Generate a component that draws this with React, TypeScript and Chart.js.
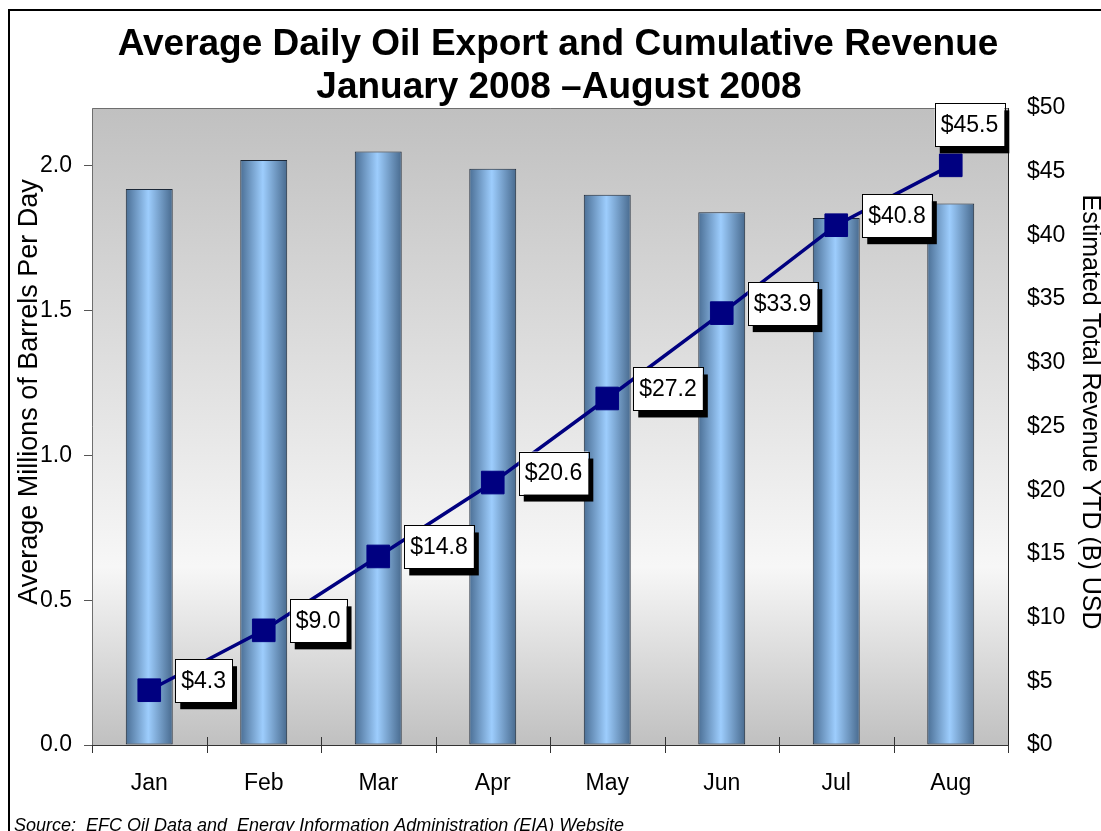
import React, { useEffect, useRef } from "react";
import { Chart, registerables } from "chart.js";

Chart.register(...registerables);

const months = ["Jan", "Feb", "Mar", "Apr", "May", "Jun", "Jul", "Aug"];
const barrelsPerDay = [1.92, 2.02, 2.05, 1.99, 1.9, 1.84, 1.82, 1.87];
const revenueYTD = [4.3, 9.0, 14.8, 20.6, 27.2, 33.9, 40.8, 45.5];
const leftTicks = [0, 0.5, 1.0, 1.5, 2.0];
const rightTicks = [0, 5, 10, 15, 20, 25, 30, 35, 40, 45, 50];
const titleLines = ["Average Daily Oil Export and Cumulative Revenue", "January 2008 \u2013August 2008"];
const leftAxisTitle = "Average Millions of Barrels Per Day";
const rightAxisTitle = "Estimated Total Revenue YTD (B) USD";
const sourceNote = "Source:  EFC Oil Data and  Energy Information Administration (EIA) Website";

const FONT = "'Liberation Sans', Arial, sans-serif";
const W = 1093;
const H = 823;

const backgroundPlugin = {
  id: "bgPlugin",
  beforeDraw(chart: any) {
    const { ctx, chartArea: a } = chart;
    ctx.save();
    ctx.fillStyle = "#ffffff";
    ctx.fillRect(0, 0, chart.width, chart.height);
    ctx.fillStyle = "#000000";
    ctx.fillRect(0, 1, 2, chart.height);
    ctx.fillRect(0, 1, chart.width, 2);
    const g = ctx.createLinearGradient(0, a.top, 0, a.bottom);
    g.addColorStop(0, "#c0c0c0");
    g.addColorStop(0.72, "#f7f7f7");
    g.addColorStop(1, "#c0c0c0");
    ctx.fillStyle = g;
    ctx.fillRect(a.left, a.top, a.right - a.left, a.bottom - a.top);
    ctx.strokeStyle = "#6e6e6e";
    ctx.lineWidth = 1;
    ctx.beginPath();
    ctx.moveTo(a.left + 0.5, a.bottom);
    ctx.lineTo(a.left + 0.5, a.top + 0.5);
    ctx.lineTo(a.right, a.top + 0.5);
    ctx.stroke();
    ctx.restore();
  },
};

const overlayPlugin = {
  id: "overlayPlugin",
  afterDatasetsDraw(chart: any) {
    const { ctx, chartArea: a } = chart;
    const xs = chart.scales.x;
    ctx.save();
    const cw = (xs.right - xs.left) / months.length;
    ctx.strokeStyle = "#333333";
    ctx.lineWidth = 1;
    for (let i = 0; i <= months.length; i++) {
      const x = Math.round(xs.left + i * cw) + 0.5;
      const y0 = i === 0 || i === months.length ? a.bottom : a.bottom - 8;
      ctx.beginPath();
      ctx.moveTo(x, y0);
      ctx.lineTo(x, a.bottom + 8);
      ctx.stroke();
    }
    const meta = chart.getDatasetMeta(0);
    ctx.font = `23px ${FONT}`;
    ctx.textBaseline = "middle";
    ctx.textAlign = "left";
    meta.data.forEach((pt: any, i: number) => {
      const text = "$" + revenueYTD[i].toFixed(1);
      const tw = ctx.measureText(text).width;
      const bw = tw + 12;
      const bh = 43;
      let bx = pt.x + 26;
      let by = pt.y - 31;
      if (i === revenueYTD.length - 1) {
        bx = pt.x - 16;
        by = pt.y - 62;
      }
      ctx.fillStyle = "#000000";
      ctx.fillRect(bx + 5, by + 7, bw, bh);
      ctx.fillStyle = "#ffffff";
      ctx.fillRect(bx, by, bw, bh);
      ctx.strokeStyle = "#000000";
      ctx.lineWidth = 1;
      ctx.strokeRect(Math.round(bx) + 0.5, Math.round(by) + 0.5, Math.round(bw), bh);
      ctx.fillStyle = "#000000";
      ctx.fillText(text, bx + 6, by + bh / 2 + 1);
    });
    ctx.restore();
  },
  afterDraw(chart: any) {
    const { ctx } = chart;
    ctx.save();
    ctx.fillStyle = "#000000";
    ctx.textAlign = "center";
    ctx.textBaseline = "alphabetic";
    ctx.font = `bold 37px ${FONT}`;
    ctx.fillText(titleLines[0], 550, 47);
    ctx.fillText(titleLines[1], 551, 90);
    ctx.textBaseline = "middle";
    ctx.font = `27px ${FONT}`;
    ctx.save();
    ctx.translate(22, 384);
    ctx.rotate(-Math.PI / 2);
    ctx.fillText(leftAxisTitle, 0, 0);
    ctx.restore();
    ctx.font = `25px ${FONT}`;
    ctx.save();
    ctx.translate(1082, 404);
    ctx.rotate(Math.PI / 2);
    ctx.fillText(rightAxisTitle, 0, 0);
    ctx.restore();
    ctx.textAlign = "left";
    ctx.textBaseline = "alphabetic";
    ctx.font = `italic 18px ${FONT}`;
    ctx.fillText(sourceNote, 6, 823);
    ctx.restore();
  },
};

export default function App() {
  const ref = useRef<HTMLCanvasElement>(null);
  useEffect(() => {
    const canvas = ref.current as HTMLCanvasElement;
    const chart = new Chart(canvas, {
      data: {
        labels: months,
        datasets: [
          {
            type: "line",
            label: "Revenue",
            data: revenueYTD,
            yAxisID: "y1",
            borderColor: "#000080",
            backgroundColor: "#000080",
            borderWidth: 3.5,
            pointStyle: "rect",
            pointRadius: 16,
            pointBorderWidth: 1,
            pointBorderColor: "#000080",
            pointBackgroundColor: "#000080",
            tension: 0,
            order: 0,
          },
          {
            type: "bar",
            label: "Barrels",
            data: barrelsPerDay,
            yAxisID: "y",
            barPercentage: 0.41,
            categoryPercentage: 1,
            borderColor: "#1c2838",
            borderWidth: 1,
            borderSkipped: false,
            order: 1,
            backgroundColor: (c: any) => {
              const ch = c.chart;
              const xs = ch.scales && ch.scales.x;
              if (!xs || c.dataIndex === undefined) return "#7fa8d4";
              const cx = xs.getPixelForValue(c.dataIndex);
              const cw = (xs.right - xs.left) / months.length;
              const bw = cw * 0.41;
              if (!isFinite(cx) || !isFinite(bw) || bw <= 0) return "#7fa8d4";
              const g = ch.ctx.createLinearGradient(cx - bw / 2, 0, cx + bw / 2, 0);
              g.addColorStop(0, "#4b6f95");
              g.addColorStop(0.48, "#9dcdfd");
              g.addColorStop(1, "#486a8e");
              return g;
            },
          },
        ] as any,
      },
      options: {
        responsive: false,
        animation: false,
        devicePixelRatio: 1,
        layout: { padding: { top: 100, left: 0, right: 0, bottom: 0 } },
        plugins: {
          legend: { display: false },
          tooltip: { enabled: false },
          title: { display: false },
        },
        scales: {
          x: {
            type: "category",
            offset: true,
            grid: { display: false, offset: true, drawTicks: false },
            border: { display: true, color: "#333333", width: 1 },
            ticks: { color: "#000000", font: { family: FONT, size: 23 }, padding: 25, maxRotation: 0 },
            afterFit: (s: any) => {
              s.height = 86;
            },
          },
          y: {
            type: "linear",
            position: "left",
            min: 0,
            max: 2.2,
            afterBuildTicks: (s: any) => {
              s.ticks = leftTicks.map((v) => ({ value: v }));
            },
            grid: { drawOnChartArea: false, drawTicks: true, tickLength: 8, color: "#555555" },
            border: { display: false },
            ticks: {
              color: "#000000",
              font: { family: FONT, size: 23 },
              padding: 12,
              callback: (v: any) => Number(v).toFixed(1),
            },
            afterFit: (s: any) => {
              s.width = 84;
            },
          },
          y1: {
            type: "linear",
            position: "right",
            min: 0,
            max: 50,
            afterBuildTicks: (s: any) => {
              s.ticks = rightTicks.map((v) => ({ value: v }));
            },
            grid: { display: false, drawOnChartArea: false, drawTicks: false },
            border: { display: true, color: "#222222", width: 1 },
            ticks: {
              color: "#000000",
              font: { family: FONT, size: 23 },
              padding: 19,
              callback: (v: any) => "$" + v,
            },
            afterFit: (s: any) => {
              s.width = 93;
            },
          },
        },
      } as any,
      plugins: [backgroundPlugin, overlayPlugin],
    });
    return () => chart.destroy();
  }, []);
  return (
    <div style={{ position: "fixed", left: 8, top: 8, width: W, height: H, overflow: "hidden" }}>
      <canvas ref={ref} width={W} height={H} style={{ display: "block" }} />
    </div>
  );
}
